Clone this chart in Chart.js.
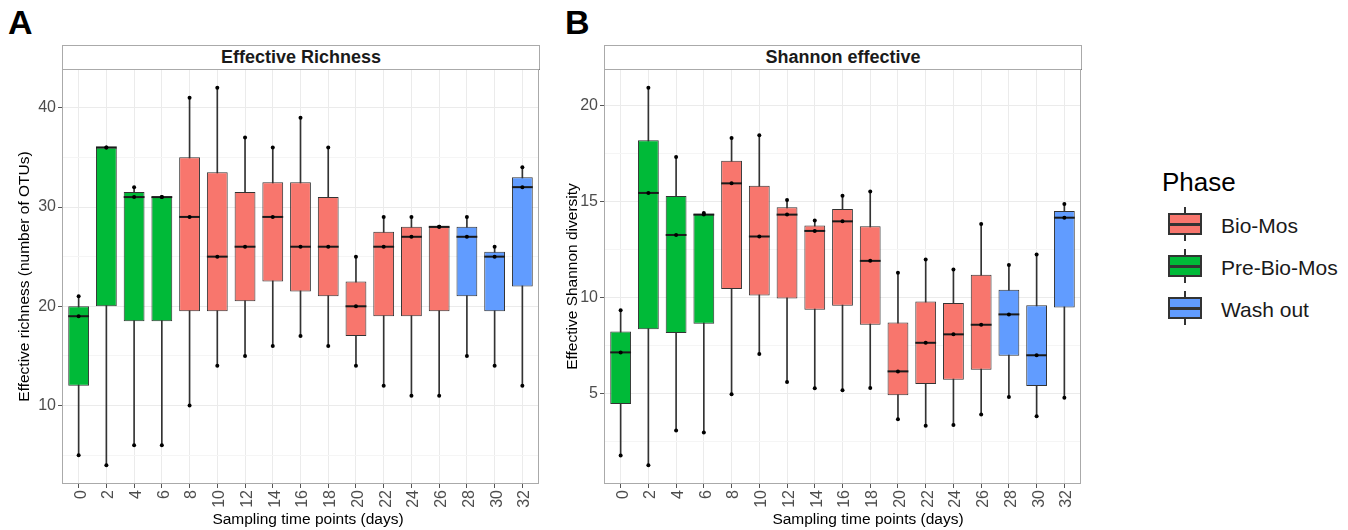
<!DOCTYPE html>
<html>
<head>
<meta charset="utf-8">
<script src="https://cdn.jsdelivr.net/npm/chart.js@4.4.1/dist/chart.umd.min.js"></script>
<style>
  body { margin: 0; width: 1348px; height: 530px; background: #fff; position: relative; overflow: hidden;
         font-family: "Liberation Sans", Arial, sans-serif; }
  .tag { position: absolute; top: 3px; font-weight: bold; font-size: 34px; color: #000; }
  .strip { position: absolute; top: 45px; height: 25px; box-sizing: border-box; border: 1px solid #aaa;
           border-bottom: 1px solid #555; background: #fff; text-align: center; font-weight: bold;
           font-size: 18px; line-height: 23px; color: #1a1a1a; }
  .xtitle { position: absolute; top: 510px; width: 300px; text-align: center; font-size: 15.5px;
            line-height: 18px; color: #000; }
  .panel { position: absolute; top: 49px; height: 481px; }
  .legend { position: absolute; left: 1162px; top: 167px; white-space: nowrap; }
  .legend h3 { margin: 0 0 10px 0; font-weight: normal; font-size: 26px; line-height: 30px; color: #000; }
  .item { position: relative; height: 42px; }
  .item span { position: absolute; left: 59px; top: 7px; font-size: 21px; line-height: 24px; color: #1a1a1a; }
  .key { position: absolute; left: 6px; top: 0; width: 34px; height: 34px; }
  .key .w { position: absolute; left: 16px; top: 0; width: 2px; height: 34px; background: #333; }
  .key .b { position: absolute; left: 0; top: 6px; width: 34px; height: 22px; box-sizing: border-box;
            border: 2.5px solid #333; }
  .key .m { position: absolute; left: 0; top: 16px; width: 34px; height: 2.5px; background: #333; }
</style>
</head>
<body>
<div class="tag" style="left:8px">A</div>
<div class="tag" style="left:565px">B</div>
<div class="strip" style="left:62px;width:478px">Effective Richness</div>
<div class="strip" style="left:604px;width:478px">Shannon effective</div>
<div class="panel" style="left:0;width:549px"><canvas id="cA"></canvas></div>
<div class="panel" style="left:545px;width:546px"><canvas id="cB"></canvas></div>
<div class="xtitle" style="left:158px">Sampling time points (days)</div>
<div class="xtitle" style="left:718px">Sampling time points (days)</div>
<div class="legend">
  <h3>Phase</h3>
  <div class="item"><div class="key"><div class="w"></div><div class="b" style="background:#F8766D"></div><div class="m"></div></div><span>Bio-Mos</span></div>
  <div class="item"><div class="key"><div class="w"></div><div class="b" style="background:#00BA38"></div><div class="m"></div></div><span>Pre-Bio-Mos</span></div>
  <div class="item"><div class="key"><div class="w"></div><div class="b" style="background:#619CFF"></div><div class="m"></div></div><span>Wash out</span></div>
</div>
<script>
const days = [0, 2, 4, 6, 8, 10, 12, 14, 16, 18, 20, 22, 24, 26, 28, 30, 32];
const phase = ["Pre-Bio-Mos", "Pre-Bio-Mos", "Pre-Bio-Mos", "Pre-Bio-Mos",
  "Bio-Mos", "Bio-Mos", "Bio-Mos", "Bio-Mos", "Bio-Mos", "Bio-Mos", "Bio-Mos", "Bio-Mos", "Bio-Mos", "Bio-Mos",
  "Wash out", "Wash out", "Wash out"];
const phaseColors = { "Bio-Mos": "#F8766D", "Pre-Bio-Mos": "#00BA38", "Wash out": "#619CFF" };

// Effective richness
const richMin = [5, 4, 6, 6, 10, 14, 15, 16, 17, 16, 14, 12, 11, 11, 15, 14, 12];
const richQ1  = [12, 20, 18.5, 18.5, 19.5, 19.5, 20.5, 22.5, 21.5, 21, 17, 19, 19, 19.5, 21, 19.5, 22];
const richMed = [19, 36, 31, 31, 29, 25, 26, 29, 26, 26, 20, 26, 27, 28, 27, 25, 32];
const richQ3  = [20, 36, 31.5, 31, 35, 33.5, 31.5, 32.5, 32.5, 31, 22.5, 27.5, 28, 28, 28, 25.5, 33];
const richMax = [21, 36, 32, 31, 41, 42, 37, 36, 39, 36, 25, 29, 29, 28, 29, 26, 34];

// Shannon effective
const shanMin = [1.78, 1.27, 3.08, 2.97, 4.97, 7.06, 5.61, 5.28, 5.17, 5.3, 3.67, 3.32, 3.37, 3.91, 4.83, 3.82, 4.78];
const shanQ1  = [4.46, 8.35, 8.16, 8.64, 10.46, 10.12, 9.96, 9.37, 9.58, 8.59, 4.91, 5.5, 5.73, 6.25, 6.98, 5.4, 9.49];
const shanMed = [7.15, 15.46, 13.27, 14.33, 15.96, 13.19, 14.33, 13.48, 13.98, 11.92, 6.16, 7.65, 8.09, 8.59, 9.13, 7.0, 14.17];
const shanQ3  = [8.24, 18.2, 15.3, 14.37, 17.14, 15.84, 14.71, 13.76, 14.62, 13.72, 8.71, 9.8, 9.73, 11.19, 10.41, 9.61, 14.52];
const shanMax = [9.35, 20.94, 17.33, 14.42, 18.32, 18.47, 15.09, 14.02, 15.32, 15.54, 11.3, 11.99, 11.47, 13.84, 11.71, 12.25, 14.88];

const richTicks = [5, 10, 15, 20, 25, 30, 35, 40];
const richMajor = [10, 20, 30, 40];
const shanTicks = [2.5, 5, 7.5, 10, 12.5, 15, 17.5, 20];
const shanMajor = [5, 10, 15, 20];

const FONT = '"Liberation Sans", Arial, sans-serif';

const medianPlugin = {
  id: "median",
  afterDatasetDraw(chart, args, opts) {
    if (args.index !== 1) return;
    const ctx = chart.ctx, y = chart.scales.y;
    ctx.save();
    ctx.strokeStyle = "#1a1a1a";
    ctx.lineWidth = 2;
    args.meta.data.forEach((el, i) => {
      const py = y.getPixelForValue(opts.values[i]);
      ctx.beginPath();
      ctx.moveTo(el.x - el.width / 2, py);
      ctx.lineTo(el.x + el.width / 2, py);
      ctx.stroke();
    });
    ctx.restore();
  }
};

const borderPlugin = {
  id: "panelBorder",
  afterDraw(chart) {
    const a = chart.chartArea, ctx = chart.ctx;
    ctx.save();
    ctx.strokeStyle = "#aaa";
    ctx.lineWidth = 1;
    ctx.strokeRect(Math.round(a.left) + 0.5, Math.round(a.top) + 0.5,
      Math.round(a.right - a.left) - 1, Math.round(a.bottom - a.top) - 1);
    ctx.restore();
  }
};

function makeChart(id, mins, q1, med, q3, maxs, yMin, yMax, ticks, major, yTitle, yWidth, yTitlePad) {
  const colors = phase.map(p => phaseColors[p]);
  const points = [];
  days.forEach((d, i) => {
    points.push({ x: i, y: mins[i] }, { x: i, y: med[i] }, { x: i, y: maxs[i] });
  });
  return new Chart(document.getElementById(id), {
    type: "bar",
    data: {
      datasets: [
        {
          data: days.map((d, i) => ({ x: i, y: [mins[i], maxs[i]] })),
          backgroundColor: "#333", borderWidth: 0, barThickness: 1, grouped: false, order: 3
        },
        {
          data: days.map((d, i) => ({ x: i, y: [q1[i], q3[i]] })),
          backgroundColor: colors, borderColor: "#333", borderWidth: 1, borderSkipped: false,
          categoryPercentage: 1, barPercentage: 0.75, grouped: false, order: 2
        },
        {
          type: "scatter", data: points, showLine: false,
          pointRadius: 2, pointBackgroundColor: "#000", pointBorderWidth: 0, order: 1
        }
      ]
    },
    options: {
      responsive: true, maintainAspectRatio: false, animation: false,
      layout: { padding: { left: 0, right: 10, top: 20, bottom: 0 } },
      plugins: {
        legend: { display: false }, tooltip: { enabled: false },
        median: { values: med }
      },
      scales: {
        x: {
          type: "linear", min: -0.6, max: 16.6, offset: false,
          afterBuildTicks: s => { s.ticks = days.map((d, i) => ({ value: i })); },
          afterFit: s => { s.height = 46; },
          grid: { offset: false, color: "#ebebeb", lineWidth: 1, tickLength: 4, tickColor: "#555" },
          border: { display: false },
          ticks: {
            autoSkip: false, minRotation: 90, maxRotation: 90, padding: 2, labelOffset: 2.5,
            color: "#4d4d4d", font: { family: FONT, size: 16 },
            callback: v => String(days[v])
          }
        },
        y: {
          type: "linear", min: yMin, max: yMax,
          afterBuildTicks: s => { s.ticks = ticks.map(v => ({ value: v })); },
          afterFit: s => { s.width = yWidth; },
          grid: {
            color: c => major.includes(c.tick.value) ? "#ebebeb" : "#f5f5f5",
            tickColor: c => major.includes(c.tick.value) ? "#555" : "rgba(0,0,0,0)",
            tickLength: 4
          },
          border: { display: false },
          ticks: {
            padding: 2, color: "#4d4d4d", font: { family: FONT, size: 16 },
            callback: v => major.includes(v) ? String(v) : ""
          },
          title: { display: true, text: yTitle, color: "#000",
                   font: { family: FONT, size: 15.5 }, padding: { top: yTitlePad, bottom: 0 } }
        }
      }
    },
    plugins: [medianPlugin, borderPlugin]
  });
}

makeChart("cA", richMin, richQ1, richMed, richQ3, richMax, 2.1, 43.9, richTicks, richMajor,
  "Effective richness (number of OTUs)", 62, 15);
makeChart("cB", shanMin, shanQ1, shanMed, shanQ3, shanMax, 0.29, 21.92, shanTicks, shanMajor,
  "Effective Shannon diversity", 59, 18.5);
</script>
</body>
</html>
